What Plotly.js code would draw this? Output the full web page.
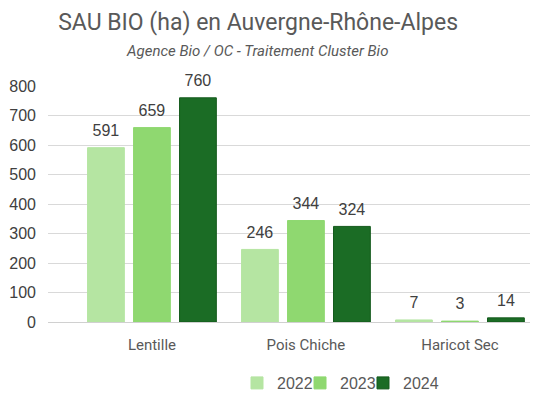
<!DOCTYPE html>
<html><head><meta charset="utf-8">
<script src="https://cdn.plot.ly/plotly-3.0.1.min.js"></script>
<style>html,body{margin:0;padding:0;background:#fff}#c{width:540px;height:396px}</style>
</head><body><div id="c"></div>
<script>
const categories = ["Lentille", "Pois Chiche", "Haricot Sec"];
const years = ["2022", "2023", "2024"];
const v2022 = [591, 246, 7];
const v2023 = [659, 344, 3];
const v2024 = [760, 324, 14];
const colors = ["#B5E5A2", "#8FD870", "#1B6C25"];
const lineColors = ["#B5E5A2", "#8FD870", "#145A1C"];
const series = [v2022, v2023, v2024];
const legendIds = ["legend", "legend2", "legend3"];
const legendX = [0.4389, 0.5556, 0.6722];

const traces = series.map((vals, i) => ({
  type: "bar",
  name: years[i],
  legend: legendIds[i],
  x: categories,
  y: vals,
  marker: {color: colors[i], line: {color: lineColors[i], width: 1}},
  text: vals.map(String),
  texttemplate: "<span style='font-size:16px'>%{text}</span><br> ",
  textposition: "outside",
  cliponaxis: false,
  textfont: {family: "Liberation Sans, Arial, sans-serif", size: 6, color: "#404040"},
  hoverinfo: "skip"
}));

const layout = {
  width: 540, height: 396,
  margin: {l: 48, r: 10, t: 86, b: 74},
  paper_bgcolor: "#fff", plot_bgcolor: "#fff",
  barmode: "group", bargap: 0.104, bargroupgap: 0.2,
  title: {text: "SAU BIO (ha) en Auvergne-Rhône-Alpes", x: 0.478, xanchor: "center", y: 0.945, yanchor: "middle",
    font: {family: "Roboto, Liberation Sans, sans-serif", size: 23, color: "#595959"}},
  annotations: [{text: "<i>Agence Bio / OC - Traitement Cluster Bio</i>", xref: "paper", yref: "paper",
    x: 0.434, y: 1, yshift: 35, xanchor: "center", yanchor: "middle", showarrow: false,
    font: {family: "Roboto, Liberation Sans, sans-serif", size: 15, color: "#595959"}}],
  xaxis: {type: "category", range: [-0.675, 2.455], showgrid: false, zeroline: false,
    showline: false, ticks: "", ticklabelstandoff: 12, automargin: false,
    tickfont: {family: "Roboto, Liberation Sans, sans-serif", size: 15, color: "#595959"}},
  yaxis: {range: [0, 800], dtick: 100, showgrid: true, gridcolor: "#D9D9D9", gridwidth: 1,
    zeroline: true, zerolinecolor: "#D0D0D0", zerolinewidth: 1, ticks: "", ticklen: 0,
    ticklabelstandoff: 11, automargin: false,
    tickfont: {family: "Liberation Sans, Arial, sans-serif", size: 16, color: "#404040"}},
  showlegend: true
};
legendIds.forEach((id, i) => {
  layout[id] = {orientation: "h", xref: "container", yref: "container",
    x: legendX[i], xanchor: "left", y: 0.0328, yanchor: "middle",
    bgcolor: "rgba(0,0,0,0)",
    font: {family: "Liberation Sans, Arial, sans-serif", size: 16, color: "#595959"}};
});

Plotly.newPlot("c", traces, layout, {displayModeBar: false, staticPlot: true});
</script></body></html>
